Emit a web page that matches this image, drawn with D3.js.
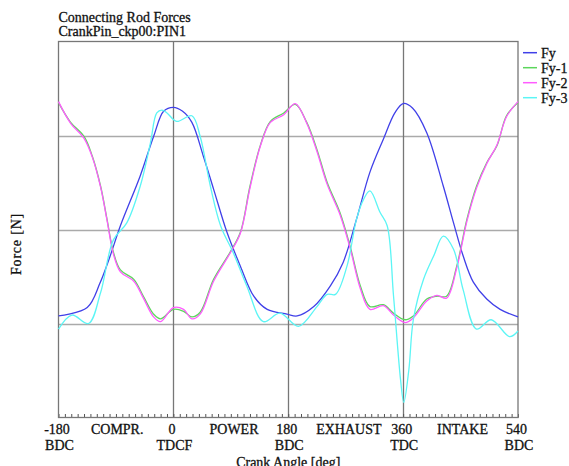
<!DOCTYPE html>
<html>
<head>
<meta charset="utf-8">
<script src="https://cdn.jsdelivr.net/npm/d3@7"></script>
<style>
  body { margin: 0; background: #fff; }
  text { font-family: "Liberation Serif", "Times New Roman", serif; fill: #111; stroke: #111; stroke-width: 0.3px; }
</style>
</head>
<body>
<script>
// crank angle [deg] and force (arbitrary units, no y ticks in the source)
const fyAngle = [-180, -135, -115, -100, -83, -52, -31, -15, 0, 14, 29, 47, 63, 84, 105, 126, 147, 178, 194, 220, 246, 266, 287, 308, 329, 347, 360, 375, 397, 423, 439, 454, 470, 491, 512, 540]
const fyValue = [-0.92, -0.83, -0.57, -0.30, 0.04, 0.57, 0.99, 1.26, 1.30, 1.26, 1.14, 0.78, 0.43, -0.03, -0.39, -0.71, -0.85, -0.90, -0.92, -0.82, -0.60, -0.35, 0.11, 0.61, 0.96, 1.24, 1.34, 1.29, 1.03, 0.46, 0.07, -0.28, -0.56, -0.74, -0.85, -0.93]

const fy1Angle = [-180, -161, -140, -127, -114, -104, -94, -83, -62, -47, -31, -20, 0, 16, 29, 42, 63, 89, 105, 120, 136, 152, 173, 191, 209, 225, 241, 261, 277, 293, 308, 329, 345, 363, 376, 397, 413, 428, 444, 460, 475, 491, 507, 522, 540]
const fy1Value = [1.35, 1.14, 0.99, 0.78, 0.46, 0.11, -0.24, -0.43, -0.53, -0.71, -0.90, -0.95, -0.85, -0.87, -0.93, -0.88, -0.53, -0.24, -0.03, 0.46, 0.89, 1.15, 1.24, 1.33, 1.14, 0.85, 0.50, 0.18, -0.18, -0.60, -0.82, -0.80, -0.89, -0.96, -0.92, -0.74, -0.71, -0.71, -0.39, 0.11, 0.46, 0.71, 0.89, 1.21, 1.35]

const fy2Angle = fy1Angle
const fy2Value = [1.36, 1.13, 0.97, 0.77, 0.45, 0.10, -0.26, -0.45, -0.55, -0.73, -0.93, -0.98, -0.83, -0.85, -0.95, -0.90, -0.55, -0.25, -0.04, 0.44, 0.88, 1.14, 1.22, 1.34, 1.13, 0.83, 0.48, 0.16, -0.20, -0.63, -0.85, -0.81, -0.91, -0.99, -0.94, -0.76, -0.70, -0.73, -0.41, 0.09, 0.44, 0.70, 0.90, 1.20, 1.36]

const fy3Angle = [-180, -159, -133, -114, -94, -73, -52, -36, -26, -18, -10, 5, 29, 42, 58, 74, 94, 115, 141, 167, 196, 225, 241, 254, 272, 287, 298, 308, 324, 335, 345, 356, 361, 369, 376, 392, 408, 423, 439, 454, 475, 498, 527, 540]
const fy3Value = [-1.06, -0.91, -1.00, -0.67, -0.11, 0.07, 0.46, 0.92, 1.24, 1.27, 1.24, 1.15, 1.21, 0.99, 0.46, 0.04, -0.25, -0.60, -0.98, -0.89, -1.03, -0.82, -0.69, -0.69, -0.39, 0.11, 0.32, 0.41, 0.18, 0.04, -0.71, -1.60, -1.84, -1.49, -0.96, -0.53, -0.28, -0.07, -0.21, -0.64, -1.06, -0.96, -1.14, -1.08]

const seriesNames = ["Fy", "Fy-1", "Fy-2", "Fy-3"]
const seriesColors = ["#4040e8", "#5cd65c", "#ff5cff", "#5cf5f5"]

const majorTicks = [-180, 0, 180, 360, 540]
const tickTop = ["-180", "0", "180", "360", "540"]
const tickBottom = ["BDC", "TDCF", "BDC", "TDC", "BDC"]
const phaseNames = ["COMPR.", "POWER", "EXHAUST", "INTAKE"]
const phaseAngles = [-88, 95, 275, 453]
const yGrid = [-1, 0, 1]

const w = 569
const h = 466
const plotLeft = 58.5, plotRight = 518, plotTop = 41.5, plotBottom = 417.5

const svg = d3.select("body").append("svg")
  .attr("width", w)
  .attr("height", h)

const x = d3.scaleLinear().domain([-180, 540]).range([plotLeft, plotRight])
const y = d3.scaleLinear().domain([-2, 2]).range([plotBottom, plotTop])

// titles
svg.append("text").attr("x", plotLeft).attr("y", 22)
  .style("font-size", "14px").text("Connecting Rod Forces")
svg.append("text").attr("x", plotLeft).attr("y", 35.5)
  .style("font-size", "14px").text("CrankPin_ckp00:PIN1")

// grid
svg.selectAll(".hgrid").data(yGrid).enter().append("line")
  .attr("x1", plotLeft).attr("x2", plotRight)
  .attr("y1", d => Math.round(y(d)) + 0.5).attr("y2", d => Math.round(y(d)) + 0.5)
  .attr("stroke", "#aaa").attr("stroke-width", 1.3)

svg.selectAll(".vgrid").data(majorTicks.slice(1, -1)).enter().append("line")
  .attr("x1", d => Math.round(x(d)) + 0.5).attr("x2", d => Math.round(x(d)) + 0.5)
  .attr("y1", plotTop).attr("y2", plotBottom)
  .attr("stroke", "#777").attr("stroke-width", 1.3)

// minor ticks along the bottom edge
const minorAxis = d3.axisBottom(x)
  .tickValues(d3.range(-180, 541, 10))
  .tickSize(-3.5)
  .tickFormat("")
svg.append("g")
  .attr("transform", "translate(0," + plotBottom + ")")
  .call(minorAxis)
  .call(g => g.select(".domain").remove())
  .call(g => g.selectAll("line").attr("stroke", "#555"))

// frame
svg.append("rect")
  .attr("x", plotLeft).attr("y", plotTop)
  .attr("width", plotRight - plotLeft).attr("height", plotBottom - plotTop)
  .attr("fill", "none").attr("stroke", "#777").attr("stroke-width", 1.3)

// curves
const series = [
  { name: "Fy", a: fyAngle, v: fyValue },
  { name: "Fy-1", a: fy1Angle, v: fy1Value },
  { name: "Fy-2", a: fy2Angle, v: fy2Value },
  { name: "Fy-3", a: fy3Angle, v: fy3Value }
]

const line = d3.line()
  .x(d => x(d[0]))
  .y(d => y(d[1]))
  .curve(d3.curveCatmullRom.alpha(0.5))

svg.selectAll(".curve").data(series).enter().append("path")
  .attr("d", s => line(s.a.map((a, i) => [a, s.v[i]])))
  .attr("fill", "none")
  .attr("stroke", (s, i) => seriesColors[i])
  .attr("stroke-width", 1.3)

// x labels
svg.selectAll(".tl").data(majorTicks).enter().append("text")
  .attr("x", d => x(d) - 1.5).attr("y", 434)
  .attr("text-anchor", "middle").style("font-size", "14px")
  .text((d, i) => tickTop[i])
svg.selectAll(".bl").data(majorTicks).enter().append("text")
  .attr("x", d => x(d) + 1).attr("y", 450)
  .attr("text-anchor", "middle").style("font-size", "14px")
  .text((d, i) => tickBottom[i])
svg.selectAll(".pl").data(phaseAngles).enter().append("text")
  .attr("x", d => x(d)).attr("y", 434)
  .attr("text-anchor", "middle").style("font-size", "14px")
  .text((d, i) => phaseNames[i])

svg.append("text")
  .attr("x", (plotLeft + plotRight) / 2).attr("y", 467)
  .attr("text-anchor", "middle").style("font-size", "14px")
  .text("Crank Angle [deg]")

svg.append("text")
  .attr("transform", "translate(20.5,244) rotate(-90)")
  .attr("text-anchor", "middle")
  .style("font-size", "14px").style("letter-spacing", "0.8px")
  .text("Force [N]")

// legend
const legend = svg.selectAll(".legend").data(seriesNames).enter().append("g")
  .attr("transform", (d, i) => "translate(0," + (52.7 + i * 15) + ")")
legend.append("line")
  .attr("x1", 523).attr("x2", 537).attr("y1", 0).attr("y2", 0)
  .attr("stroke", (d, i) => seriesColors[i]).attr("stroke-width", 1.5)
legend.append("text")
  .attr("x", 541).attr("y", 5)
  .style("font-size", "14px")
  .text(d => d)
</script>
</body>
</html>
